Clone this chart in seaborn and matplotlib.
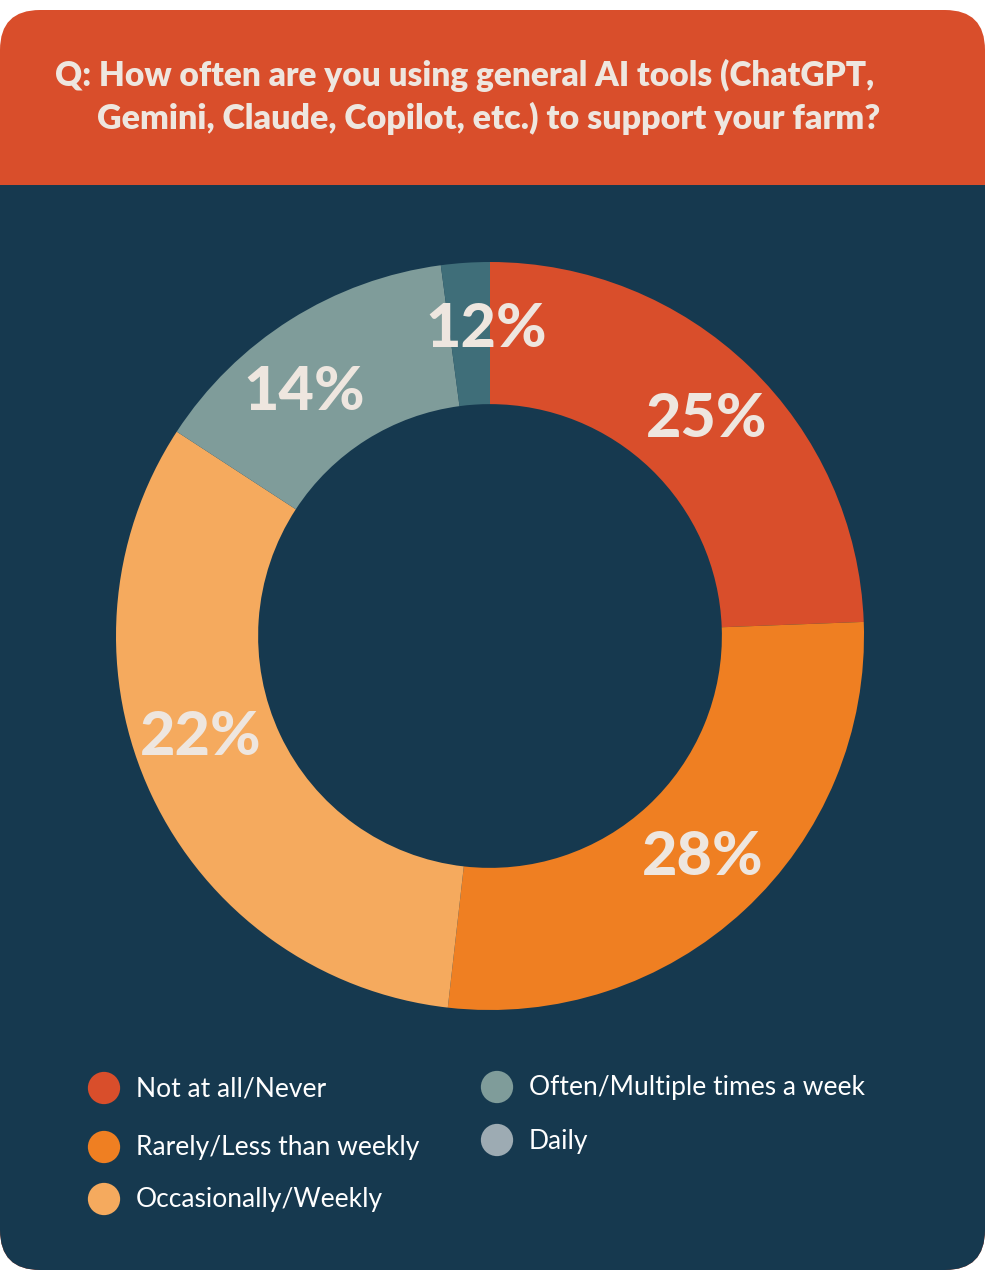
import numpy as np
import matplotlib
matplotlib.use("Agg")
import matplotlib.pyplot as plt
from matplotlib.patches import FancyBboxPatch, Rectangle
import seaborn as sns

# slice sizes; printed labels are kept as shown
categories = ["Not at all/Never", "Rarely/Less than weekly", "Occasionally/Weekly",
              "Often/Multiple times a week", "Daily"]
values = [24.4, 27.4, 32.4, 13.7, 2.1]
pct_labels = ["25%", "28%", "22%", "14%", "12%"]
slice_colors = ["#D94E2B", "#EF7F22", "#F5AA5E", "#7F9C9A", "#3F6E79"]
legend_colors = ["#D94E2B", "#EF7F22", "#F5AA5E", "#7F9C9A", "#9DABB3"]
# small clockwise nudges (deg) so labels sit where the original put them
label_nudge = [1, -1, 6, -5, 3]

title_lines = ["Q: How often are you using general AI tools (ChatGPT,",
               "Gemini, Claude, Copilot, etc.) to support your farm?"]

NAVY = "#16394F"
ORANGE_HEAD = "#D94E2B"
TEXT = "#EEE6DF"

sns.set_theme(style="white")
plt.rcParams["font.family"] = ["Lato", "DejaVu Sans"]

W, H = 985, 1280
fig = plt.figure(figsize=(W / 100, H / 100), dpi=100)
fig.patch.set_facecolor("white")

# background canvas in pixel coords
bg = fig.add_axes([0, 0, 1, 1])
bg.set_xlim(0, W)
bg.set_ylim(H, 0)
bg.axis("off")

card = FancyBboxPatch((0, 10), W, 1260, boxstyle="round,pad=0,rounding_size=40",
                      facecolor=ORANGE_HEAD, edgecolor="none")
bg.add_patch(card)
body = Rectangle((0, 185), W, 1100, facecolor=NAVY, edgecolor="none")
bg.add_patch(body)
body.set_clip_path(card)

bg.text(55, 75, title_lines[0], color=TEXT, fontsize=24, fontweight="heavy",
        ha="left", va="center")
bg.text(97, 118, title_lines[1], color=TEXT, fontsize=24.5, fontweight="heavy",
        ha="left", va="center")

# donut
cx, cy, r = 490, 636, 374
ax = fig.add_axes([(cx - r) / W, (H - cy - r) / H, 2 * r / W, 2 * r / H])
palette = sns.color_palette(slice_colors)
wedges, _ = ax.pie(values, colors=palette, startangle=90, counterclock=False,
                   radius=1.0, wedgeprops=dict(width=0.38, edgecolor="none"))
ax.set_xlim(-1, 1)
ax.set_ylim(-1, 1)
ax.set_aspect("equal")
ax.axis("off")

for w, lab, nd in zip(wedges, pct_labels, label_nudge):
    mid = np.deg2rad((w.theta1 + w.theta2) / 2 - nd)
    ax.text(0.82 * np.cos(mid), 0.82 * np.sin(mid), lab, color=TEXT,
            fontsize=44, fontweight="black", ha="center", va="center")

# legend
leg_pos = [(104, 1088), (104, 1147), (104, 1199), (497, 1087), (497, 1140)]
for (x, y), name, col in zip(leg_pos, categories, legend_colors):
    bg.scatter([x], [y], s=540, color=col, edgecolor="none")
    bg.text(x + 32, y + 1, name, color="white", fontsize=19, ha="left", va="center")

fig.savefig("out.png", dpi=100, facecolor="white")
